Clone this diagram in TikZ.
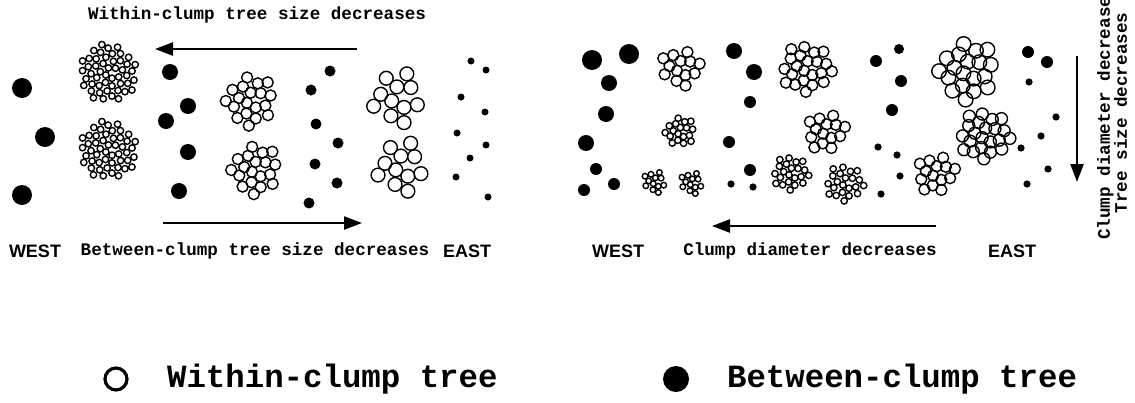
\documentclass[tikz,border=0pt]{standalone}
\usepackage{fontspec}
\setmonofont{Liberation Mono}
\setsansfont{Liberation Sans}
\usetikzlibrary{arrows.meta}
\tikzset{
  wtree/.style={draw=black, line width=0.7pt},
  btree/.style={fill=black},
  trend/.style={line width=1.2pt, -{Triangle[length=9pt,width=6.5pt]}},
  lbl/.style={font=\fontsize{8.8}{8.5}\ttfamily\bfseries},
  side/.style={font=\fontsize{9}{10}\sffamily\bfseries},
  key/.style={font=\fontsize{16.2}{18}\ttfamily\bfseries},
}
% clump of within-clump trees: x, y, spread, tree radius, number of trees
\newcommand{\clump}[5]{%
  \foreach \i in {1,...,#5}
    \draw[wtree] ({#1+#3*sqrt((\i-0.5)/#5)*cos(137.508*\i)},{#2+#3*sqrt((\i-0.5)/#5)*sin(137.508*\i)}) circle (#4);
}
\begin{document}
\begin{tikzpicture}[x=0.5pt,y=-0.5pt]
    \useasboundingbox (0,0) rectangle (1135,402);
    \clip (0,0) rectangle (1135,402);
    % left panel
    \node[lbl] (wtitle) at (257,15) {Within-clump tree size decreases};
    \coordinate (wa1) at (357,49);
    \coordinate (wa2) at (155,49);
    \draw[trend] (wa1)--(wa2);
    \foreach \x/\y in {22/88,45/137,22/195} \fill[btree] (\x,\y) circle (10);
    \foreach \x/\y in {170/72,188/106,166/121,188/152,179/191} \fill[btree] (\x,\y) circle (8);
    \foreach \x/\y in {330/71,311/90,316/124,338/143,315/164,337/183,309/203} \fill[btree] (\x,\y) circle (5.5);
    \foreach \x/\y in {471/61,486/70,461/97,485/112,457/133,486/145,470/158,456/177,488/197} \fill[btree] (\x,\y) circle (3.5);
    \clump{108}{73}{29.5}{3.2}{50}
    \clump{108}{150}{29.5}{3.2}{50}
    \clump{250}{100}{26}{5.5}{19}
    \clump{255}{169}{25.5}{5.5}{19}
    \clump{396}{97}{27.5}{6.9}{11}
    \clump{400}{166}{27}{6.9}{11}
    \coordinate (ba1) at (163,223);
    \coordinate (ba2) at (362,223);
    \draw[trend] (ba1)--(ba2);
    \node[side] (lwest) at (35,251) {WEST};
    \node[lbl] (btitle) at (255,251) {Between-clump tree size decreases};
    \node[side] (least) at (467,251) {EAST};
    % right panel
    \foreach \x/\y in {592/60,629/54} \fill[btree] (\x,\y) circle (10);
    \foreach \x/\y in {609/83,606/114,586/143,734/51,754/72} \fill[btree] (\x,\y) circle (8);
    \foreach \x/\y in {596/169,584/190,614/184,750/102,729/142,750/170,876/61,901/81,892/110,1028/52,1047/62} \fill[btree] (\x,\y) circle (6);
    \foreach \x/\y in {899/49} \fill[btree] (\x,\y) circle (5);
    \foreach \x/\y in {731/184,753/187,878/147,897/155,900/176,881/194,1029/82,1056/117,1041/136,1021/148,1048/169,1027/184} \fill[btree] (\x,\y) circle (3.6);
    \clump{680}{68}{20.5}{5.5}{13}
    \clump{680}{132}{15.5}{3.2}{18}
    \clump{655}{182}{11.8}{2.8}{12}
    \clump{692}{183}{11.8}{2.8}{12}
    \clump{807}{68}{26}{5.5}{22}
    \clump{826}{131}{20.5}{5.5}{14}
    \clump{791}{173}{18.5}{3.2}{22}
    \clump{845}{183}{19.5}{3.2}{22}
    \clump{967}{70}{30}{7.3}{19}
    \clump{985}{135}{26}{6}{22}
    \clump{936}{173}{20.5}{5.5}{14}
    \coordinate (ca1) at (936,226);
    \coordinate (ca2) at (712,226);
    \draw[trend] (ca1)--(ca2);
    \node[side] (rwest) at (618,251) {WEST};
    \node[lbl] (ctitle) at (810,251) {Clump diameter decreases};
    \node[side] (reast) at (1012,251) {EAST};
    \coordinate (va1) at (1077,56);
    \coordinate (va2) at (1077,182);
    \draw[trend] (va1)--(va2);
    \node[lbl, rotate=90, align=center] (vtitle) at (1112,113) {Clump diameter decreases\\Tree size decreases};
    % legend
    \draw[wtree, line width=1.6pt] (116,379) circle (11) coordinate (wkey);
    \node[key, anchor=west] (wkeytxt) at (160,379) {Within-clump tree};
    \fill[btree] (676,379) circle (13) coordinate (bkey);
    \node[key, anchor=west] (bkeytxt) at (720,379) {Between-clump tree};
\end{tikzpicture}
\end{document}
